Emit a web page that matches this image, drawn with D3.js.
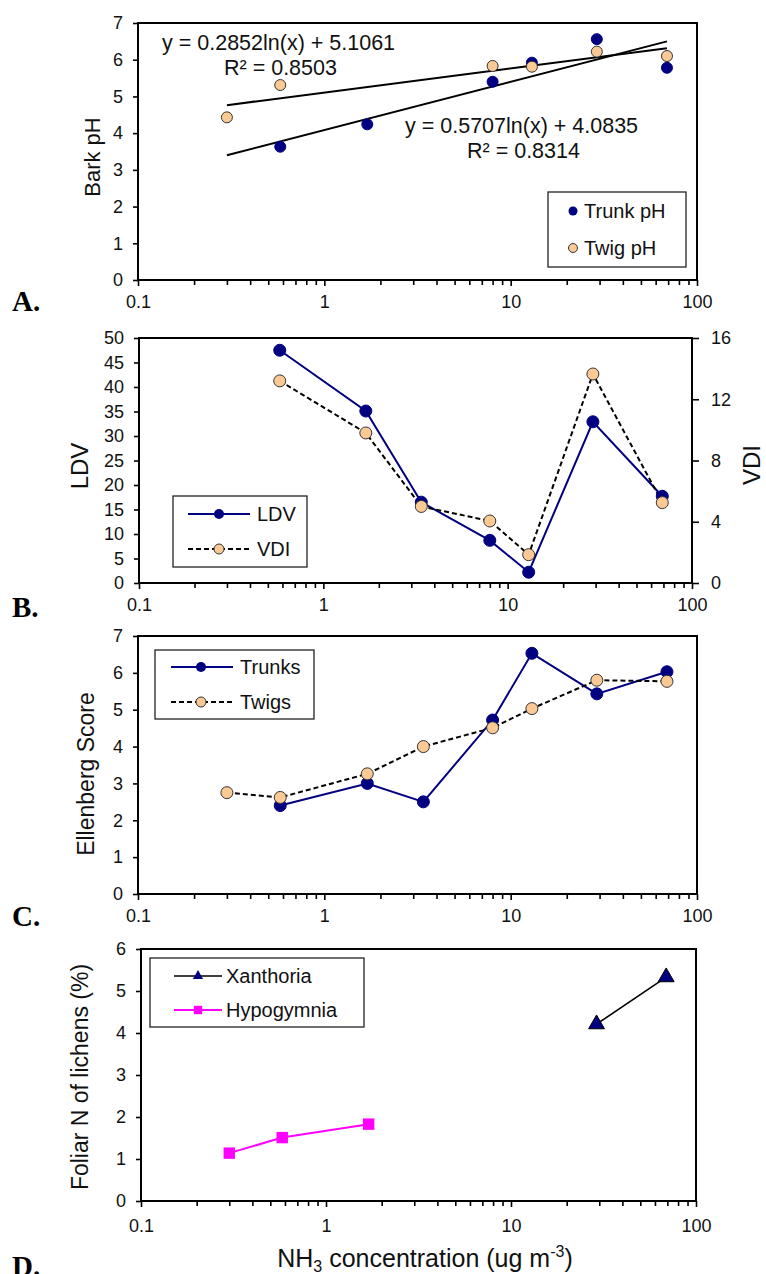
<!DOCTYPE html>
<html>
<head>
<meta charset="utf-8">
<script src="https://cdn.jsdelivr.net/npm/d3@7"></script>
<style>
body { margin: 0; background: #fff; }
svg { display: block; font-family: "Liberation Sans", Arial, sans-serif; }
</style>
</head>
<body>
<svg id="chart" width="766" height="1274"></svg>
<script>
// NH3 concentration (ug m-3) of the sites
var nh3 = [0.3, 0.58, 1.7, 3.4, 8, 13, 29, 69];

// A. bark pH
var trunkPhX = [0.58, 1.7, 8, 13, 29, 69];
var trunkPh = [3.63, 4.24, 5.40, 5.92, 6.56, 5.78];
var twigPhX = [0.3, 0.58, 8, 13, 29, 69];
var twigPh = [4.43, 5.31, 5.83, 5.81, 6.22, 6.10];
// log fits  y = a ln(x) + b
var twigFit = [0.2852, 5.1061];
var trunkFit = [0.5707, 4.0835];
var twigR2 = "0.8503", trunkR2 = "0.8314";
var fitRange = [0.3, 69];

// B. LDV and VDI
var ldvX = [0.58, 1.7, 3.4, 8, 13, 29, 69];
var ldv = [47.5, 35.1, 16.5, 8.7, 2.2, 32.9, 17.7];
var vdi = [13.2, 9.8, 5.0, 4.05, 1.85, 13.65, 5.25];

// C. Ellenberg score
var trunksX = [0.58, 1.7, 3.4, 8, 13, 29, 69];
var trunks = [2.4, 3.0, 2.5, 4.72, 6.53, 5.43, 6.03];
var twigsX = nh3;
var twigs = [2.75, 2.62, 3.26, 4.0, 4.51, 5.03, 5.8, 5.77];

// D. foliar N
var xanthX = [29, 69];
var xanth = [4.21, 5.33];
var hypoX = [0.3, 0.58, 1.7];
var hypo = [1.14, 1.51, 1.83];

// ticks
var xMajor = [0.1, 1, 10, 100];
var yTicksA = [0, 1, 2, 3, 4, 5, 6, 7];
var yTicksB = [0, 5, 10, 15, 20, 25, 30, 35, 40, 45, 50];
var yTicksBRight = [0, 4, 8, 12, 16];
var yTicksC = [0, 1, 2, 3, 4, 5, 6, 7];
var yTicksD = [0, 1, 2, 3, 4, 5, 6];

var navy = "#000080", peach = "#fbc994", magenta = "#ff00ff";

var xAll = [];
xMajor.slice(0, 3).forEach(function (d) {
    for (var k = 1; k < 10; k++) xAll.push(d * k);
});
xAll.push(100);

var svg = d3.select("#chart");

function pts(xs, ys) {
    return xs.map(function (d, i) { return {x: d, y: ys[i]}; });
}

function makePanel(box, yMax, yTicks, xPad) {
    var g = svg.append("g");
    var x = d3.scaleLog().domain([0.1, 100]).range([box.left, box.right]);
    var y = d3.scaleLinear().domain([0, yMax]).range([box.bottom, box.top]);

    var gx = g.append("g")
        .attr("transform", "translate(0," + box.bottom + ")")
        .call(d3.axisBottom(x)
            .tickValues(xAll)
            .tickSize(6)
            .tickSizeOuter(0)
            .tickPadding(xPad)
            .tickFormat(function (d) { return xMajor.indexOf(d) >= 0 ? String(d) : ""; }));
    gx.select(".domain").remove();
    gx.selectAll(".tick").filter(function (d) { return xMajor.indexOf(d) < 0; })
        .select("line").attr("y2", 5);

    var gy = g.append("g")
        .attr("transform", "translate(" + box.left + ",0)")
        .call(d3.axisLeft(y).tickValues(yTicks).tickSize(5).tickSizeOuter(0)
            .tickPadding(10).tickFormat(d3.format("d")));
    gy.select(".domain").remove();

    g.selectAll(".tick line").attr("stroke", "#000").attr("stroke-width", 1.6);
    g.selectAll(".tick text").attr("font-size", 18).attr("fill", "#111")
        .attr("font-family", "Liberation Sans, Arial, sans-serif");

    g.append("rect")
        .attr("x", box.left).attr("y", box.top)
        .attr("width", box.right - box.left).attr("height", box.bottom - box.top)
        .attr("fill", "none").attr("stroke", "#000").attr("stroke-width", 2);

    return {g: g, x: x, y: y};
}

function yTitle(g, txt, bx, cy, size) {
    g.append("text")
        .attr("transform", "translate(" + bx + "," + cy + ") rotate(-90)")
        .attr("text-anchor", "middle")
        .attr("font-size", size)
        .attr("fill", "#111")
        .text(txt);
}

function panelLetter(txt, base) {
    svg.append("text")
        .attr("x", 12).attr("y", base)
        .attr("font-family", "Liberation Serif, Times New Roman, serif")
        .attr("font-weight", "bold")
        .attr("font-size", 29)
        .text(txt);
}

function circles(p, data, fill, stroke, r) {
    p.g.append("g").selectAll("circle")
        .data(data).enter().append("circle")
        .attr("cx", function (d) { return p.x(d.x); })
        .attr("cy", function (d) { return p.y(d.y); })
        .attr("r", r)
        .attr("fill", fill)
        .attr("stroke", stroke)
        .attr("stroke-width", 1);
}

function path(p, data, color, width, dash) {
    var line = d3.line()
        .x(function (d) { return p.x(d.x); })
        .y(function (d) { return p.y(d.y); });
    p.g.append("path")
        .datum(data)
        .attr("d", line)
        .attr("fill", "none")
        .attr("stroke", color)
        .attr("stroke-width", width)
        .attr("stroke-dasharray", dash || null);
}

function legendBox(x0, y0, w, h) {
    svg.append("rect")
        .attr("x", x0).attr("y", y0).attr("width", w).attr("height", h)
        .attr("fill", "#fff").attr("stroke", "#222").attr("stroke-width", 1.3);
}

function legendText(x0, yc, txt) {
    svg.append("text")
        .attr("x", x0).attr("y", yc).attr("dy", "0.36em")
        .attr("font-size", 20).attr("fill", "#111")
        .text(txt);
}

// ---------- A ----------
var pA = makePanel({left: 138, right: 697, top: 23, bottom: 280}, 7, yTicksA, 9);

[twigFit, trunkFit].forEach(function (f) {
    path(pA, fitRange.map(function (v) { return {x: v, y: f[0] * Math.log(v) + f[1]}; }), "#000", 2);
});
circles(pA, pts(trunkPhX, trunkPh), navy, navy, 5.5);
circles(pA, pts(twigPhX, twigPh), peach, "#333", 5.5);

pA.g.append("text").attr("x", 162).attr("y", 50).attr("font-size", 21.5).attr("fill", "#111")
    .text("y = " + twigFit[0] + "ln(x) + " + twigFit[1]);
pA.g.append("text").attr("x", 224).attr("y", 75).attr("font-size", 21.5).attr("fill", "#111")
    .text("R\u00b2 = " + twigR2);
pA.g.append("text").attr("x", 405).attr("y", 133).attr("font-size", 21.5).attr("fill", "#111")
    .text("y = " + trunkFit[0] + "ln(x) + " + trunkFit[1]);
pA.g.append("text").attr("x", 467).attr("y", 158).attr("font-size", 21.5).attr("fill", "#111")
    .text("R\u00b2 = " + trunkR2);

yTitle(pA.g, "Bark pH", 100, 157, 22);

legendBox(548, 192, 138, 75);
svg.append("circle").attr("cx", 573).attr("cy", 211).attr("r", 4.5).attr("fill", navy);
legendText(584, 211, "Trunk pH");
svg.append("circle").attr("cx", 573).attr("cy", 248).attr("r", 4.5).attr("fill", peach).attr("stroke", "#333");
legendText(584, 248, "Twig pH");
panelLetter("A.", 311);

// ---------- B ----------
var pB = makePanel({left: 139, right: 692, top: 338, bottom: 583}, 50, yTicksB, 9);
var yR = d3.scaleLinear().domain([0, 16]).range([583, 338]);
var gR = pB.g.append("g")
    .attr("transform", "translate(692,0)")
    .call(d3.axisRight(yR).tickValues(yTicksBRight).tickSize(7).tickSizeOuter(0).tickPadding(12));
gR.select(".domain").remove();
gR.selectAll(".tick line").attr("stroke", "#000").attr("stroke-width", 1.6);
gR.selectAll(".tick text").attr("font-size", 18).attr("fill", "#111");

var pBR = {g: pB.g, x: pB.x, y: yR};
path(pB, pts(ldvX, ldv), navy, 2);
path(pBR, pts(ldvX, vdi), "#000", 2, "5,3");
circles(pB, pts(ldvX, ldv), navy, navy, 6);
circles(pBR, pts(ldvX, vdi), peach, "#333", 6);

yTitle(pB.g, "LDV", 88, 466, 24);
yTitle(pB.g, "VDI", 760, 465, 24);

legendBox(173, 496, 134, 71);
svg.append("line").attr("x1", 188).attr("x2", 250).attr("y1", 514).attr("y2", 514)
    .attr("stroke", navy).attr("stroke-width", 2);
svg.append("circle").attr("cx", 219).attr("cy", 514).attr("r", 5).attr("fill", navy);
legendText(257, 514, "LDV");
svg.append("line").attr("x1", 188).attr("x2", 250).attr("y1", 549).attr("y2", 549)
    .attr("stroke", "#000").attr("stroke-width", 2).attr("stroke-dasharray", "5,3");
svg.append("circle").attr("cx", 219).attr("cy", 549).attr("r", 5).attr("fill", peach).attr("stroke", "#333");
legendText(257, 549, "VDI");
panelLetter("B.", 617);

// ---------- C ----------
var pC = makePanel({left: 138, right: 697, top: 636, bottom: 894}, 7, yTicksC, 9);
path(pC, pts(trunksX, trunks), navy, 2);
path(pC, pts(twigsX, twigs), "#000", 2, "5,3");
circles(pC, pts(trunksX, trunks), navy, navy, 6);
circles(pC, pts(twigsX, twigs), peach, "#333", 6);

yTitle(pC.g, "Ellenberg  Score", 94, 774, 23);

legendBox(155, 650, 159, 69);
svg.append("line").attr("x1", 171).attr("x2", 233).attr("y1", 667).attr("y2", 667)
    .attr("stroke", navy).attr("stroke-width", 2);
svg.append("circle").attr("cx", 201).attr("cy", 667).attr("r", 5).attr("fill", navy);
legendText(240, 667, "Trunks");
svg.append("line").attr("x1", 171).attr("x2", 233).attr("y1", 702).attr("y2", 702)
    .attr("stroke", "#000").attr("stroke-width", 2).attr("stroke-dasharray", "5,3");
svg.append("circle").attr("cx", 201).attr("cy", 702).attr("r", 5).attr("fill", peach).attr("stroke", "#333");
legendText(240, 702, "Twigs");
panelLetter("C.", 926);

// ---------- D ----------
var pD = makePanel({left: 141, right: 696, top: 949, bottom: 1201}, 6, yTicksD, 12);
path(pD, pts(xanthX, xanth), "#000", 1.6);
path(pD, pts(hypoX, hypo), magenta, 2);

var tri = d3.symbol().type(d3.symbolTriangle).size(110);
var sq = d3.symbol().type(d3.symbolSquare).size(130);
pD.g.append("g").selectAll("path")
    .data(pts(xanthX, xanth)).enter().append("path")
    .attr("d", tri)
    .attr("transform", function (d) { return "translate(" + pD.x(d.x) + "," + pD.y(d.y) + ")"; })
    .attr("fill", navy).attr("stroke", "#000").attr("stroke-width", 1);
pD.g.append("g").selectAll("path")
    .data(pts(hypoX, hypo)).enter().append("path")
    .attr("d", sq)
    .attr("transform", function (d) { return "translate(" + pD.x(d.x) + "," + pD.y(d.y) + ")"; })
    .attr("fill", magenta);

yTitle(pD.g, "Foliar N of lichens (%)", 88, 1077, 23);

legendBox(150, 958, 214, 69);
svg.append("line").attr("x1", 174).attr("x2", 222).attr("y1", 976).attr("y2", 976)
    .attr("stroke", "#000").attr("stroke-width", 1.6);
svg.append("path").attr("d", d3.symbol().type(d3.symbolTriangle).size(45))
    .attr("transform", "translate(198,976)").attr("fill", navy);
legendText(226, 976, "Xanthoria");
svg.append("line").attr("x1", 174).attr("x2", 222).attr("y1", 1010).attr("y2", 1010)
    .attr("stroke", magenta).attr("stroke-width", 2);
svg.append("path").attr("d", d3.symbol().type(d3.symbolSquare).size(70))
    .attr("transform", "translate(198,1010)").attr("fill", magenta);
legendText(226, 1010, "Hypogymnia");

var xt = svg.append("text")
    .attr("x", 425).attr("y", 1267)
    .attr("text-anchor", "middle")
    .attr("font-size", 25).attr("fill", "#111");
xt.append("tspan").text("NH");
xt.append("tspan").attr("font-size", 16).attr("dy", 5).text("3");
xt.append("tspan").attr("dy", -5).text(" concentration (ug m");
xt.append("tspan").attr("font-size", 16).attr("dy", -10).text("-3");
xt.append("tspan").attr("dy", 10).text(")");
panelLetter("D.", 1276);
</script>
</body>
</html>
